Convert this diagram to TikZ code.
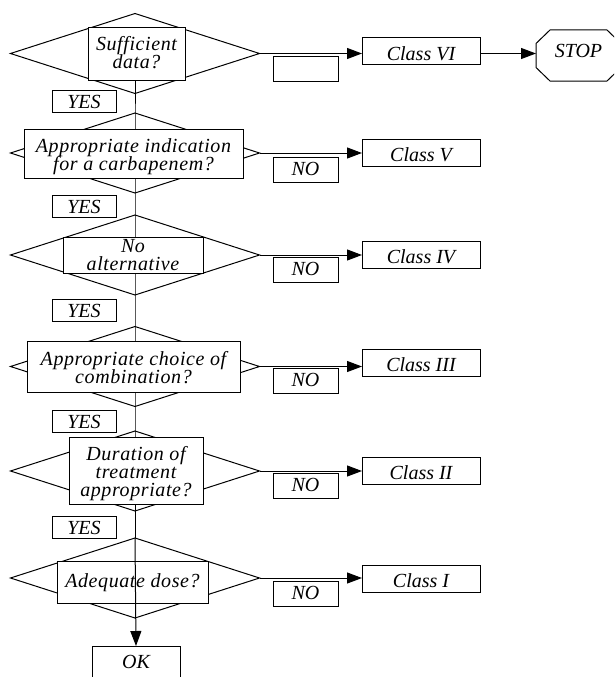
\documentclass[tikz,border=0pt]{standalone}
\usepackage{fontspec}
\setmainfont{Liberation Serif}
\newfontfamily\qfont[LetterSpace=3]{Liberation Serif}
\usetikzlibrary{shapes.geometric,arrows.meta}
\AtBeginDocument{\setlength{\lineskiplimit}{-30pt}}
\begin{document}
\begin{tikzpicture}[x=1pt,y=-1pt,line width=1pt,
  every node/.style={inner sep=0pt,outer sep=0pt,font=\fontsize{20}{20}\selectfont\itshape},
  dia/.style={diamond,draw,minimum width=249pt,minimum height=80pt},
  qbox/.style={draw,fill=white,align=center,anchor=base,
    font=\qfont\fontsize{20}{18}\selectfont\itshape},
  yesbox/.style={draw,fill=white,minimum width=64pt,text height=18pt,text depth=4pt},
  nobox/.style={draw,fill=white,minimum width=65pt,text height=18pt,text depth=7pt},
  classbox/.style={draw,fill=white,minimum width=118pt,text height=22pt,text depth=5pt},
  arr/.style={-{Triangle[length=15pt,width=11pt]}}]
\useasboundingbox (0,0) rectangle (614,677);
\clip (0,0) rectangle (614,677);
% diamonds
\node[dia] (d1) at (135,53.5) {};
\node[dia] (d2) at (135,153) {};
\node[dia] (d3) at (135,255) {};
\node[dia] (d4) at (135,366.5) {};
\node[dia] (d5) at (135,471) {};
\node[dia] (d6) at (135,578) {};
% vertical chain
\draw (d1.center) -- (d2.center) -- (d3.center) -- (d4.center) -- (d5.center) -- (d6.north);
% question boxes (anchored at last baseline)
\node[qbox,minimum width=97pt,text height=40.5pt,text depth=11.5pt] (q1) at (136.5,68.5)
  {\fontsize{20}{15.5}\selectfont Sufficient\\ data?};
\node[qbox,minimum width=219pt,text height=41pt,text depth=8pt] (q2) at (133.5,170)
  {Appropriate indication\\ for a carbapenem?};
\node[qbox,minimum width=140pt,text height=33pt,text depth=3pt] (q3) at (133,270)
  {\fontsize{20}{13}\selectfont No\\ alternative};
\node[qbox,minimum width=213pt,text height=42pt,text depth=9pt] (q4) at (133.5,383)
  {Appropriate choice of\\ combination?};
\node[qbox,minimum width=134pt,text height=59pt,text depth=8pt] (q5) at (136,496)
  {\fontsize{20}{18.5}\selectfont Duration of\\ treatment\\ appropriate?};
\node[qbox,minimum width=151pt,text height=26pt,text depth=16pt] (q6) at (132.5,587)
  {Adequate dose?};
% YES boxes
\node[yesbox] (y1) at (84,101) {YES};
\node[yesbox] (y2) at (84,206) {YES};
\node[yesbox] (y3) at (84,310) {YES};
\node[yesbox] (y4) at (84,421) {YES};
\node[yesbox] (y5) at (84,527) {YES};
% NO boxes
\node[nobox] (n1) at (305.5,69) {};
\node[nobox] (n2) at (305.5,169.5) {NO};
\node[nobox] (n3) at (305.5,270) {NO};
\node[nobox] (n4) at (305.5,381) {NO};
\node[nobox] (n5) at (305.5,486) {NO};
\node[nobox] (n6) at (305.5,594) {NO};
% class boxes
\node[classbox] (c6) at (421,51.5) {Class VI};
\node[classbox] (c5) at (421,152.5) {Class V};
\node[classbox] (c4) at (421,255) {Class IV};
\node[classbox] (c3) at (421,363) {Class III};
\node[classbox] (c2) at (421,471) {Class II};
\node[classbox] (c1) at (421,578.5) {Class I};
% stop and ok
\node[minimum width=85pt,text height=28pt,text depth=23pt] (stop) at (578.5,55.5) {STOP};
\draw ([yshift=12pt]stop.west) -- ([xshift=14pt]stop.north west) -- ([xshift=-14pt]stop.north east)
  -- ([yshift=12pt]stop.east) -- ([yshift=-12pt]stop.east) -- ([xshift=-14pt]stop.south east)
  -- ([xshift=14pt]stop.south west) -- ([yshift=-12pt]stop.west) -- cycle;
\node[draw,fill=white,minimum width=88pt,text height=22pt,text depth=10pt] (ok) at (136,662) {OK};
% arrows
\draw[arr] (d1.east) -- (d1.east -| c6.west);
\draw[arr] (d2.east) -- (d2.east -| c5.west);
\draw[arr] (d3.east) -- (d3.east -| c4.west);
\draw[arr] (d4.east) -- (d4.east -| c3.west);
\draw[arr] (d5.east) -- (d5.east -| c2.west);
\draw[arr] (d6.east) -- (d6.east -| c1.west);
\draw[arr] (c6.east |- d1.east) -- (stop.west |- d1.east);
\draw[arr] (d6.north) -- (ok.north);
\end{tikzpicture}
\end{document}
